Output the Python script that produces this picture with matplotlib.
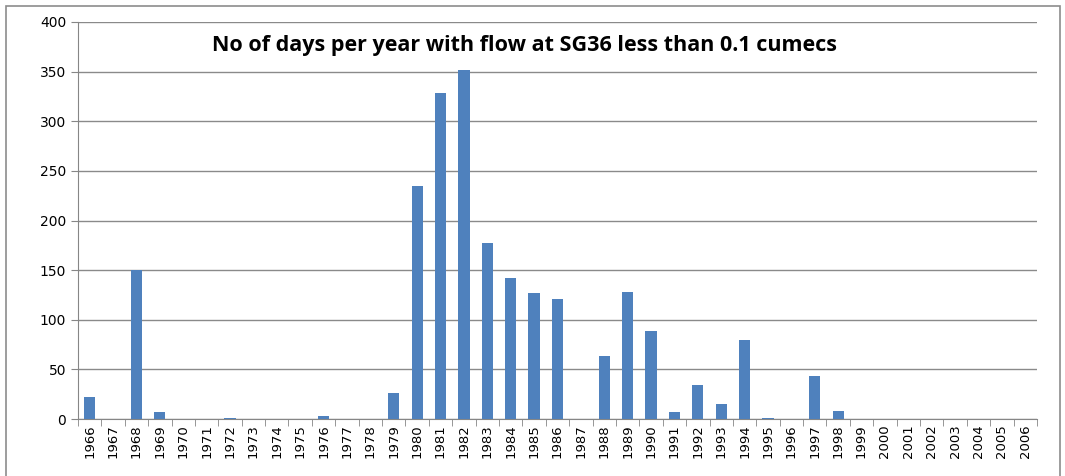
import numpy as np
import matplotlib.pyplot as plt
from matplotlib.patches import Rectangle

# Données
years = list(range(1966, 2007))
days = [22, 0, 150, 7, 0, 0, 1, 0, 0, 0, 3, 0, 0, 26,
        235, 328, 352, 177, 142, 127, 121, 0, 63, 128, 89, 7, 34, 15, 80, 1,
        0, 43, 8, 0, 0, 0, 0, 0, 0, 0, 0]

fig = plt.figure(figsize=(10.65, 4.76), dpi=100)
ax = fig.add_axes([0.0732, 0.1197, 0.9005, 0.8341])

# cadre extérieur
fig.patches.append(Rectangle((6 / 1065, -0.01), 1054 / 1065, 1 - 6 / 476 + 0.01,
                             transform=fig.transFigure, fill=False,
                             edgecolor='#8c8c8c', linewidth=1.2))

x = np.arange(len(years))
ax.bar(x, days, width=0.48, color='#4F81BD', zorder=3)

ax.set_xlim(-0.5, len(years) - 0.5)
ax.set_ylim(0, 400)
ax.set_yticks(np.arange(0, 401, 50))
ax.yaxis.grid(True, color='#8a8a8a', linewidth=1)
ax.set_axisbelow(True)

ax.set_xticks(x)
ax.set_xticklabels([str(y) for y in years], rotation=90)
ax.set_xticks(np.arange(-0.5, len(years), 1), minor=True)
ax.tick_params(axis='x', which='major', length=0, labelsize=9.5, pad=4)
ax.tick_params(axis='x', which='minor', length=5, color='#868686', direction='out')
ax.tick_params(axis='y', length=5, color='#868686', labelsize=10)

for s in ['top', 'right']:
    ax.spines[s].set_visible(False)
for s in ['left', 'bottom']:
    ax.spines[s].set_color('#868686')

ax.text(0.466, 0.94, 'No of days per year with flow at SG36 less than 0.1 cumecs',
        transform=ax.transAxes, ha='center', va='center',
        fontsize=15.5, fontweight='bold', family='Open Sans')

plt.savefig('out.png', dpi=100)
plt.close()
